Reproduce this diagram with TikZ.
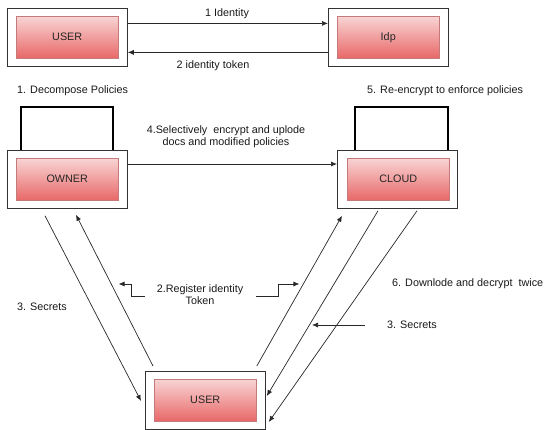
\documentclass[tikz,border=0pt]{standalone}
\usepackage{fontspec}
\setmainfont{Liberation Sans}
\usetikzlibrary{arrows.meta,calc}
\definecolor{pinktop}{RGB}{249,212,212}
\definecolor{redbot}{RGB}{232,104,104}
\definecolor{innerborder}{RGB}{196,122,122}
\definecolor{linegray}{RGB}{40,40,40}
\begin{document}
\begin{tikzpicture}[x=1pt,y=-1pt, font=\fontsize{10.8}{12}\selectfont,
  outer/.style={draw=black!80, line width=0.8pt, fill=white, minimum width=120pt, minimum height=58pt, inner sep=0pt, anchor=north west},
  inner/.style={draw=innerborder, line width=0.5pt, top color=pinktop, bottom color=redbot, minimum width=102pt, minimum height=42pt, inner sep=0pt, anchor=north west, text=black!85},
  arr/.style={draw=linegray, line width=0.7pt, -{Latex[length=6pt,width=5pt]}},
  loopline/.style={draw=black, line width=1.3pt},
  lbl/.style={inner sep=0pt, text=black!90}]
\useasboundingbox[fill=white] (0,0) rectangle (544,430);

% boxes
\node[outer] (userA) at (7,8) {};
\node[inner] (userAi) at (16,16) {USER};
\node[outer] (idp) at (328,8) {};
\node[inner] (idpi) at (337,16) {Idp};
\node[outer] (owner) at (7,150) {};
\node[inner] (owneri) at (16,158) {OWNER};
\node[outer] (cloud) at (337,150) {};
\node[inner] (cloudi) at (347,158) {CLOUD};
\node[outer] (userB) at (145,371) {};
\node[inner] (userBi) at (154,379) {USER};

% self loops
\draw[loopline] ([xshift=14pt]owner.north west) -- ++(0,-43) -- ++(92,0) -- ++(0,43);
\draw[loopline] ([xshift=18pt]cloud.north west) -- ++(0,-43) -- ++(93,0) -- ++(0,43);

% labels
\node[lbl] (l1) at (227,14) {1 Identity};
\node[lbl] (l2) at (213,66) {2 identity token};
\node[lbl, anchor=west] (l3) at (17,91) {1. Decompose Policies};
\node[lbl, anchor=west] (l4) at (367,91) {5. Re-encrypt to enforce policies};
\node[lbl, align=center] (l5) at (226,137) {4.Selectively\ \ encrypt and uplode\\docs and modified policies};
\node[lbl, align=center] (reg) at (200,295) {2.Register identity\\Token};
\node[lbl, anchor=west] (s1) at (17,307) {3. Secrets};
\node[lbl, anchor=west] (s2) at (387,325) {3. Secrets};
\node[lbl, anchor=west] (d6) at (392,284) {6. Downlode and decrypt\ \ twice};

% horizontal connectors
\draw[arr] ([yshift=14pt]userA.east) -- ([yshift=14pt]idp.west);
\draw[arr] ([yshift=-15pt]idp.west) -- ([yshift=-15pt]userA.east);
\draw[arr] ([shift={(0,14)}]owner.north east) -- ([shift={(0,14)}]cloud.north west);

% diagonal connectors
\draw[arr] ([shift={(38,7)}]owner.south west) -- ([shift={(-4,30)}]userB.north west);
\draw[arr] ([shift={(8,-5)}]userB.north west) -- ([shift={(69,6)}]owner.south west);
\draw[arr] ([shift={(-9,-5)}]userB.north east) -- ([shift={(5,7)}]cloud.south west);
\draw[arr] ([shift={(41,2)}]cloud.south west) -- ([shift={(1,25)}]userB.north east);
\draw[arr] ([shift={(80,2)}]cloud.south west) -- ([shift={(3,51)}]userB.north east);

% bent pointer arrows
\draw[arr] ([shift={(-12,1)}]reg.west) -- ++(-13,0) -- ++(0,-12) -- ++(-13,0);
\draw[arr] ([shift={(13,1)}]reg.east) -- ++(22,0) -- ++(0,-12) -- ++(21,0);
\draw[arr] ([xshift=-22pt]s2.west) -- ++(-53,0);
\end{tikzpicture}
\end{document}
